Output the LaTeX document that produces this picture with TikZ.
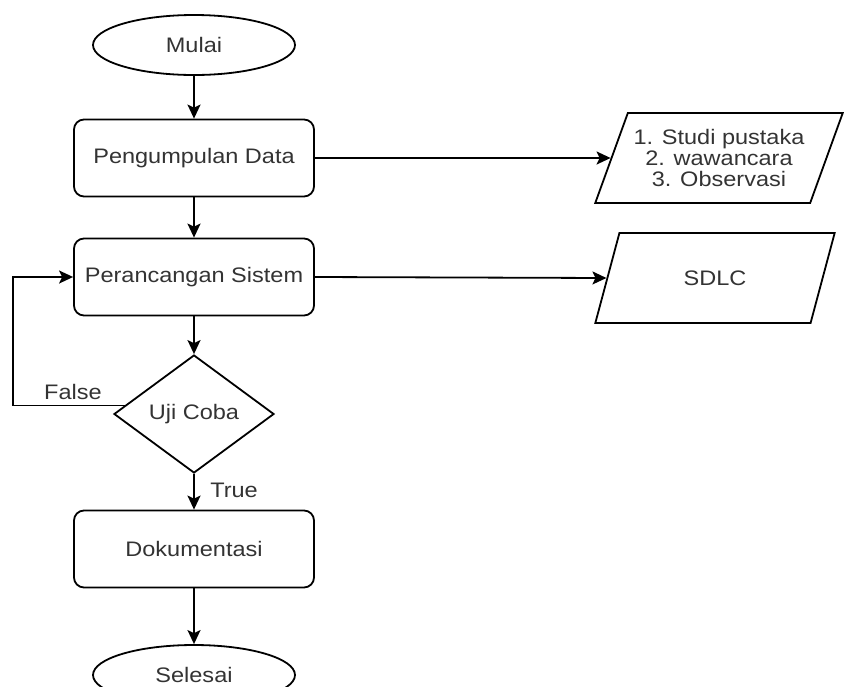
\documentclass[tikz,border=0pt]{standalone}
\usepackage{fontspec}
\setmainfont[FakeStretch=1.12]{Liberation Sans}
\usetikzlibrary{shapes.geometric,arrows.meta}
\definecolor{txt}{HTML}{333333}
\begin{document}
\begin{tikzpicture}[x=1pt,y=-1pt,
  font=\fontsize{21}{21}\selectfont,
  every node/.style={text=txt},
  base/.style={draw=black,line width=1.8pt,inner sep=0pt,align=center},
  term/.style={base,ellipse,minimum width=202pt,minimum height=60pt},
  proc/.style={base,rectangle,rounded corners=10pt,minimum width=240pt,minimum height=77pt},
  dec/.style={base,diamond,aspect=1.356,minimum width=160pt,minimum height=118pt},
  io/.style={base,trapezium,trapezium left angle=62,trapezium right angle=118,trapezium stretches=true,minimum height=90pt},
  arr/.style={draw=black,line width=1.8pt,-{Stealth[length=14pt,width=13pt,inset=3pt]}},
  lbl/.style={inner sep=1pt}
]
\useasboundingbox (0,0) rectangle (844,686);
\clip (0,0) rectangle (844,686);

\node[term] (m) at (194,45) {Mulai};
\node[proc] (pd) at (194,158) {Pengumpulan Data};
\node[proc] (ps) at (194,277) {Perancangan Sistem};
\node[dec] (d) at (194,414) {Uji Coba};
\node[proc] (dok) at (194,549) {Dokumentasi};
\node[term] (sel) at (194,675) {Selesai};

\node[io,minimum width=248pt] (p1) at (719,158) {1. Studi pustaka\\2. wawancara\\3. Observasi};
\node[io,minimum width=240pt] (p2) at (715,278) {SDLC};

\node[lbl] (lf) at (73,392) {False};
\node[lbl] (lt) at (234,490) {True};
\coordinate (lp) at (13,414);

\draw[arr] (m) -- (pd);
\draw[arr] (pd) -- (ps);
\draw[arr] (ps) -- (d);
\draw[arr] (d) -- (dok);
\draw[arr] (dok) -- (sel);
\draw[arr] (pd.east) -- (p1.west);
\draw[arr] (ps.east) -- (p2.west);
\draw[arr] (d.173) -- (d.173 -| lp) |- (ps.west);
\end{tikzpicture}
\end{document}
